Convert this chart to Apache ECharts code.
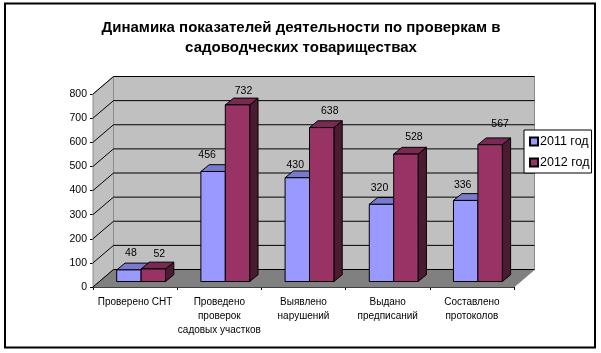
<!DOCTYPE html>
<html>
<head>
<meta charset="utf-8">
<style>
  html, body { margin: 0; padding: 0; background: #fff; }
  #chart { width: 601px; height: 353px; }
</style>
<script src="https://cdn.jsdelivr.net/npm/echarts@6/dist/echarts.min.js"></script>
</head>
<body>
<div id="chart"></div>
<script>
const categories = ['Проверено СНТ', 'Проведено\nпроверок\nсадовых участков', 'Выявлено\nнарушений', 'Выдано\nпредписаний', 'Составлено\nпротоколов'];
const values2011 = [48, 456, 430, 320, 336];
const values2012 = [52, 732, 638, 528, 567];
const yTicks = [0, 100, 200, 300, 400, 500, 600, 700, 800];

const FONT = '"Liberation Sans", Arial, sans-serif';
// 3d look: how far the back wall sits from the front plane
const DEPTH_X = 20.5;
const DEPTH_Y = 17.5;
// bars stand a bit inside the floor
const BAR_SHIFT_X = 6;
const BAR_SHIFT_Y = 5.5;
const BAR_DEPTH_X = 8.3;
const BAR_DEPTH_Y = 6.8;
const BAR_RATIO = 0.29;

const chart = echarts.init(document.getElementById('chart'));

function poly(points, fill, stroke) {
  return {
    type: 'polygon',
    shape: { points: points },
    style: { fill: fill, stroke: stroke || null, lineWidth: stroke ? 1 : 0 }
  };
}

// walls and floor, drawn once
function renderWalls(params, api) {
  const c = params.coordSys;
  const l = c.x, r = c.x + c.width, t = c.y, b = c.y + c.height;
  const dx = DEPTH_X, dy = DEPTH_Y;
  return {
    type: 'group',
    children: [
      poly([[l + dx, t - dy], [r + dx, t - dy], [r + dx, b - dy], [l + dx, b - dy]], '#c0c0c0', '#8c8c8c'),
      poly([[l, t], [l + dx, t - dy], [l + dx, b - dy], [l, b]], '#c0c0c0', '#8c8c8c'),
      poly([[l, b], [l + dx, b - dy], [r + dx, b - dy], [r, b]], '#808080', '#808080')
    ]
  };
}

// one gridline per tick, along side wall and back wall
function renderGrid(params, api) {
  const c = params.coordSys;
  const y = api.coord([0, api.value(1)])[1];
  const l = c.x, r = c.x + c.width;
  return {
    type: 'polyline',
    shape: { points: [[l, y], [l + DEPTH_X, y - DEPTH_Y], [r + DEPTH_X, y - DEPTH_Y]] },
    style: { fill: null, stroke: '#000', lineWidth: 1 }
  };
}

function makeBarRenderer(front, top, side, seriesPos, labelNudge) {
  return function (params, api) {
    const i = api.value(0);
    const v = api.value(1);
    const w = api.size([1, 0])[0] * BAR_RATIO;
    const mid = api.coord([i, 0])[0] + BAR_SHIFT_X;
    const x0 = seriesPos === 0 ? mid - w : mid;
    const x1 = x0 + w;
    const yb = api.coord([i, 0])[1] - BAR_SHIFT_Y;
    const yt = api.coord([i, v])[1] - BAR_SHIFT_Y;
    const ex = BAR_DEPTH_X, ey = BAR_DEPTH_Y;
    const n = labelNudge[params.dataIndex];
    return {
      type: 'group',
      children: [
        poly([[x1, yt], [x1 + ex, yt - ey], [x1 + ex, yb - ey], [x1, yb]], side, '#000'),
        poly([[x0, yt], [x0 + ex, yt - ey], [x1 + ex, yt - ey], [x1, yt]], top, '#000'),
        poly([[x0, yt], [x1, yt], [x1, yb], [x0, yb]], front, '#000'),
        {
          type: 'text',
          style: {
            x: (x0 + x1) / 2 + n[0],
            y: yt - 18 + n[1],
            text: String(v),
            fill: '#000',
            font: '10.5px ' + FONT,
            align: 'center',
            verticalAlign: 'middle'
          },
          z2: 50
        }
      ]
    };
  };
}

// the value labels sit at hand-placed spots in the source picture
const nudge2011 = [[2, 1], [-6, 2], [-2, 5], [-2, 2], [-3, 3]];
const nudge2012 = [[6, 3], [6, 4], [8, 2], [8, 1], [10, -3]];

const option = {
  animation: false,
  backgroundColor: '#fff',
  title: {
    text: 'Динамика показателей деятельности по проверкам в\nсадоводческих товариществах',
    left: 296,
    top: 13,
    textAlign: 'center',
    textStyle: { fontFamily: FONT, fontSize: 15, fontWeight: 'bold', color: '#000', lineHeight: 20 }
  },
  legend: {
    data: ['2011 год', '2012 год'],
    orient: 'vertical',
    left: 524,
    top: 130,
    padding: [5, 2, 4, 5],
    itemGap: 8,
    itemWidth: 8,
    itemHeight: 8,
    icon: 'rect',
    backgroundColor: '#fff',
    borderColor: '#000',
    borderWidth: 1,
    textStyle: { fontFamily: FONT, fontSize: 12.5, color: '#000', padding: [0, 0, 0, -3] }
  },
  grid: { left: 93, right: 87, top: 94, bottom: 66 },
  xAxis: {
    type: 'category',
    data: categories,
    axisLine: { show: true, lineStyle: { color: '#000' } },
    axisTick: { show: true, alignWithLabel: false, length: 3, lineStyle: { color: '#000' } },
    axisLabel: { interval: 0, margin: 8, fontFamily: FONT, fontSize: 10, color: '#000', lineHeight: 14 }
  },
  yAxis: {
    type: 'value',
    min: 0,
    max: 800,
    interval: 100,
    axisLine: { show: true, lineStyle: { color: '#000' } },
    axisTick: { show: true, length: 3, lineStyle: { color: '#000' } },
    splitLine: { show: false },
    axisLabel: { margin: 6, fontFamily: FONT, fontSize: 10.5, color: '#000' }
  },
  series: [
    { type: 'custom', name: 'walls', silent: true, z: 1, data: [[0, 0]], encode: { x: 0, y: 1 }, renderItem: renderWalls },
    { type: 'custom', name: 'grid', silent: true, z: 2, data: yTicks.map(t => [0, t]), encode: { x: 0, y: 1 }, renderItem: renderGrid },
    {
      type: 'custom',
      name: '2011 год',
      z: 3,
      itemStyle: { color: '#9999ff', borderColor: '#000', borderWidth: 1 },
      data: values2011.map((v, i) => [i, v]),
      encode: { x: 0, y: 1 },
      renderItem: makeBarRenderer('#9999ff', '#7a7acc', '#4d4d80', 0, nudge2011)
    },
    {
      type: 'custom',
      name: '2012 год',
      z: 4,
      itemStyle: { color: '#993366', borderColor: '#000', borderWidth: 1 },
      data: values2012.map((v, i) => [i, v]),
      encode: { x: 0, y: 1 },
      renderItem: makeBarRenderer('#993366', '#7a2952', '#4d1a33', 1, nudge2012)
    }
  ],
  graphic: [
    {
      type: 'rect',
      z: -1,
      silent: true,
      shape: { x: 5, y: 3.5, width: 590, height: 344 },
      style: { fill: 'none', stroke: '#000', lineWidth: 2 }
    }
  ]
};

chart.setOption(option);
</script>
</body>
</html>
